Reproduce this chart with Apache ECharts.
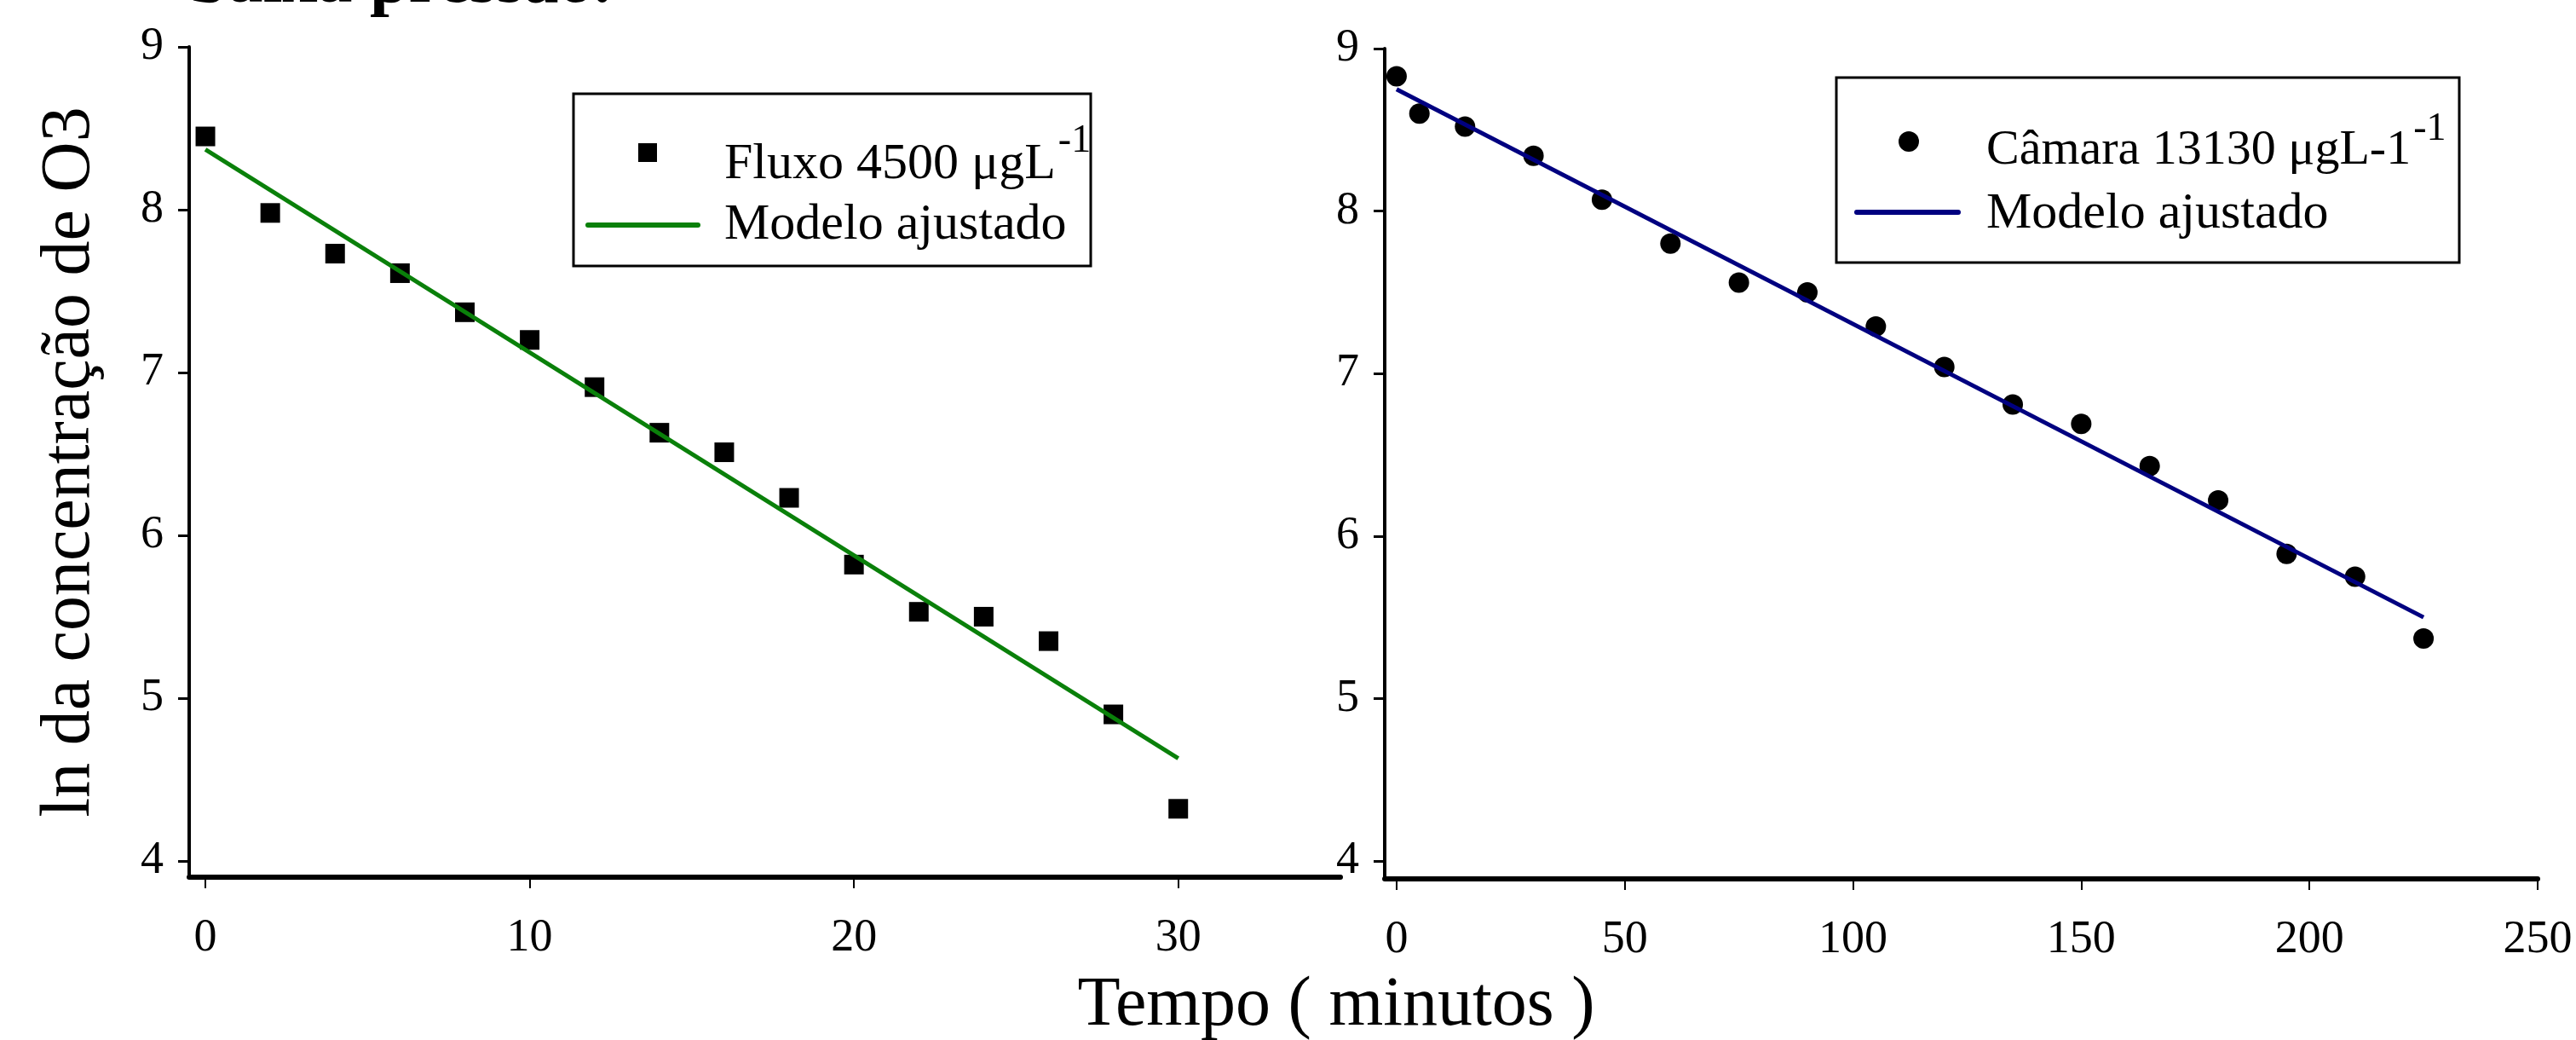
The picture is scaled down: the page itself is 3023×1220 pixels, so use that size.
<html>
<head>
    <script src="https://cdn.jsdelivr.net/npm/echarts@6/dist/echarts.min.js"></script>
    <style>
        body { margin: 0; background: #fff; }
        #chart { width: 3023px; height: 1220px; }
    </style>
</head>
<body>
<div id="chart"></div>
<script>
    // fluxo 4500 ugL-1
    var fluxoTempo = [0, 2, 4, 6, 8, 10, 12, 14, 16, 18, 20, 22, 24, 26, 28, 30];
    var fluxoLn = [8.45, 7.98, 7.73, 7.61, 7.37, 7.20, 6.91, 6.63, 6.51, 6.23, 5.82, 5.53, 5.50, 5.35, 4.90, 4.32];
    var fluxoModeloTempo = [0, 30];
    var fluxoModeloLn = [8.37, 4.63];

    // camara 13130 ugL-1
    var camaraTempo = [0, 5, 15, 30, 45, 60, 75, 90, 105, 120, 135, 150, 165, 180, 195, 210, 225];
    var camaraLn = [8.83, 8.60, 8.52, 8.34, 8.07, 7.80, 7.56, 7.50, 7.29, 7.04, 6.81, 6.69, 6.43, 6.22, 5.89, 5.75, 5.37];
    var camaraModeloTempo = [0, 225];
    var camaraModeloLn = [8.75, 5.50];

    var yTicks = [4, 5, 6, 7, 8, 9];
    var xTicksFluxo = [0, 10, 20, 30];
    var xTicksCamara = [0, 50, 100, 150, 200, 250];

    function pares(xs, ys) {
        var out = [];
        for (var i = 0; i < xs.length; i++) out.push([xs[i], ys[i]]);
        return out;
    }

    var fonte = '"Liberation Serif", "Times New Roman", serif';

    // largura do texto, para colocar o expoente logo depois
    var ctx = document.createElement('canvas').getContext('2d');
    function largura(txt, size) {
        ctx.font = size + 'px ' + fonte;
        return ctx.measureText(txt).width;
    }

    function eixoX(idx, min, max, ticks) {
        return {
            type: 'value', gridIndex: idx, min: min, max: max,
            splitLine: { show: false },
            axisLine: { onZero: false, lineStyle: { color: '#000', width: 6 } },
            axisTick: { length: 13, customValues: ticks, lineStyle: { color: '#000', width: 2 } },
            axisLabel: { customValues: ticks, margin: 45, fontSize: 54, fontFamily: fonte, color: '#000' }
        };
    }

    function eixoY(idx, min, nome) {
        return {
            type: 'value', gridIndex: idx, min: min, max: 9,
            name: nome, nameLocation: 'middle', nameGap: 99, nameRotate: 90,
            nameTextStyle: { fontSize: 82, fontFamily: fonte, color: '#000' },
            splitLine: { show: false },
            axisLine: { onZero: false, lineStyle: { color: '#000', width: 4 } },
            axisTick: { length: 13, customValues: yTicks, lineStyle: { color: '#000', width: 3 } },
            axisLabel: { customValues: yTicks, margin: 30, fontSize: 54, fontFamily: fonte, color: '#000' }
        };
    }

    var leg1 = 'Fluxo 4500 μgL';
    var leg2 = 'Câmara 13130 μgL-1';
    var sup1x = 850 + largura(leg1, 60) + 3;
    var sup2x = 2331 + largura(leg2, 58) + 3;

    var myChart = echarts.init(document.getElementById('chart'));
    var option = {
        backgroundColor: '#fff',
        animation: false,
        grid: [
            { left: 222, right: 1450, top: 55, bottom: 191 },
            { left: 1625, right: 45, top: 57, bottom: 189 }
        ],
        xAxis: [
            eixoX(0, -0.5, 35, xTicksFluxo),
            eixoX(1, -2.6, 250, xTicksCamara)
        ],
        yAxis: [
            eixoY(0, 3.9, 'ln da concentração de O3'),
            eixoY(1, 3.89, '')
        ],
        series: [
            {
                name: 'Fluxo 4500', type: 'scatter', xAxisIndex: 0, yAxisIndex: 0,
                symbol: 'rect', symbolSize: 23, itemStyle: { color: '#000', opacity: 1 },
                data: pares(fluxoTempo, fluxoLn)
            },
            {
                name: 'Modelo ajustado', type: 'line', xAxisIndex: 0, yAxisIndex: 0,
                showSymbol: false, lineStyle: { color: '#0a800a', width: 5 },
                data: pares(fluxoModeloTempo, fluxoModeloLn)
            },
            {
                name: 'Câmara 13130', type: 'scatter', xAxisIndex: 1, yAxisIndex: 1,
                symbol: 'circle', symbolSize: 24, itemStyle: { color: '#000', opacity: 1 },
                data: pares(camaraTempo, camaraLn)
            },
            {
                name: 'Modelo ajustado 2', type: 'line', xAxisIndex: 1, yAxisIndex: 1,
                showSymbol: false, lineStyle: { color: '#000080', width: 5 },
                data: pares(camaraModeloTempo, camaraModeloLn)
            }
        ],
        graphic: [
            // resto do titulo cortado no topo
            { type: 'text', left: 222, top: -60, style: { text: 'baixa pressão.', fontSize: 82, fontWeight: 'bold', fontFamily: fonte, fill: '#000' } },
            { type: 'text', x: 1568, y: 1180, style: { text: 'Tempo ( minutos )', fontSize: 82, fontFamily: fonte, fill: '#000', align: 'center', verticalAlign: 'middle' } },

            // legenda esquerda
            { type: 'rect', shape: { x: 673, y: 110, width: 607, height: 202 }, style: { fill: '#fff', stroke: '#000', lineWidth: 3 } },
            { type: 'rect', shape: { x: 749, y: 168, width: 22, height: 22 }, style: { fill: '#000' } },
            { type: 'text', x: 850, y: 193, style: { text: leg1, fontSize: 60, fontFamily: fonte, fill: '#000', verticalAlign: 'middle' } },
            { type: 'text', x: sup1x, y: 166, style: { text: '-1', fontSize: 46, fontFamily: fonte, fill: '#000', verticalAlign: 'middle' } },
            { type: 'line', shape: { x1: 690, y1: 264, x2: 819, y2: 264 }, style: { stroke: '#0a800a', lineWidth: 6, lineCap: 'round' } },
            { type: 'text', x: 850, y: 264, style: { text: 'Modelo ajustado', fontSize: 60, fontFamily: fonte, fill: '#000', verticalAlign: 'middle' } },

            // legenda direita
            { type: 'rect', shape: { x: 2155, y: 91, width: 731, height: 217 }, style: { fill: '#fff', stroke: '#000', lineWidth: 3 } },
            { type: 'circle', shape: { cx: 2240, cy: 166, r: 12 }, style: { fill: '#000' } },
            { type: 'text', x: 2331, y: 177, style: { text: leg2, fontSize: 58, fontFamily: fonte, fill: '#000', verticalAlign: 'middle' } },
            { type: 'text', x: sup2x, y: 152, style: { text: '-1', fontSize: 46, fontFamily: fonte, fill: '#000', verticalAlign: 'middle' } },
            { type: 'line', shape: { x1: 2179, y1: 249, x2: 2298, y2: 249 }, style: { stroke: '#000080', lineWidth: 6, lineCap: 'round' } },
            { type: 'text', x: 2331, y: 251, style: { text: 'Modelo ajustado', fontSize: 60, fontFamily: fonte, fill: '#000', verticalAlign: 'middle' } }
        ]
    };
    myChart.setOption(option);
    window.onresize = myChart.resize;
</script>
</body>
</html>
